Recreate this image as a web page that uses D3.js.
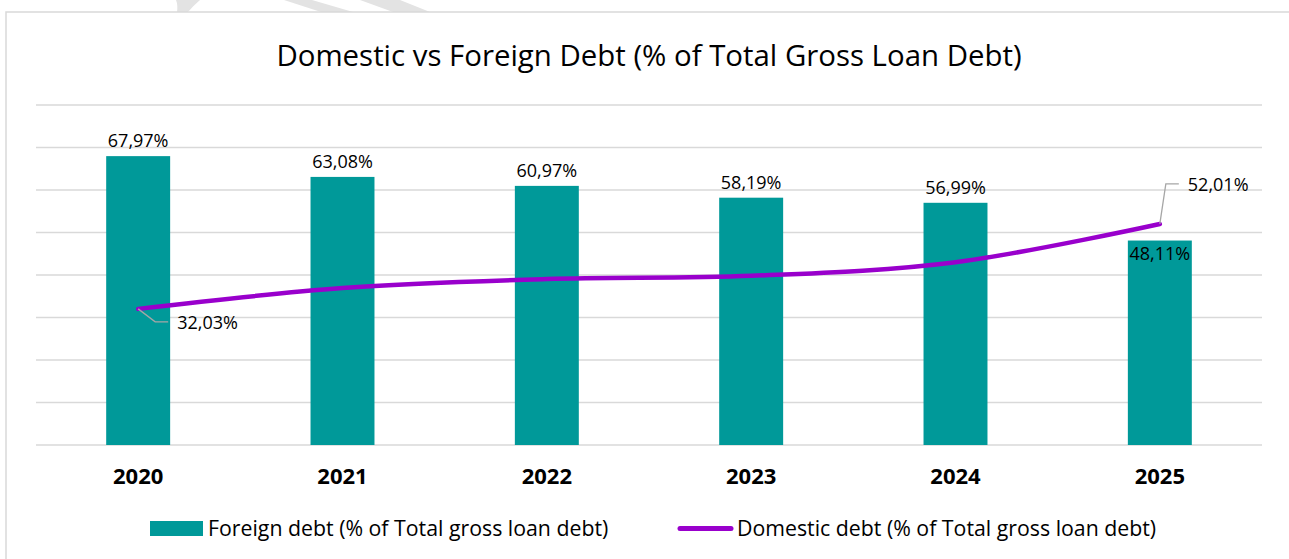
<!DOCTYPE html>
<html lang="en">
<head>
    <meta charset="UTF-8">
    <title>Domestic vs Foreign Debt</title>
    <style>
        body { margin: 0; background: #fff; }
        svg { display: block; font-family: "Open Sans", "Noto Sans", sans-serif; }
        .grid line { stroke: #d9d9d9; stroke-width: 1.5px; }
        .label { font-size: 18px; fill: #000; }
        .xlabel { font-size: 22px; font-weight: bold; fill: #000; text-anchor: middle; }
        .legend { font-size: 21.3px; fill: #000; }
    </style>
</head>
<body>
    <script src="https://d3js.org/d3.v7.min.js"></script>
    <script>
        const years = ["2020", "2021", "2022", "2023", "2024", "2025"];
        const foreignDebt = [67.97, 63.08, 60.97, 58.19, 56.99, 48.11];
        const domesticDebt = [32.03, 36.92, 39.03, 39.8, 43.01, 52.01];
        const yTicks = [0, 10, 20, 30, 40, 50, 60, 70, 80];

        const width = 1289;
        const height = 559;
        const teal = "#009999";
        const purple = "#9900cc";

        const svg = d3.select("body").append("svg")
            .attr("width", width)
            .attr("height", height);

        // faint stray strokes above the chart frame
        svg.append("g").attr("fill", "#e3e3e3")
            .selectAll("path")
            .data([
                "M176,0 L200,0 Q193,6 188,12 L177,12 Q178,5 176,0 Z",
                "M284,0 L312,0 L353,12 L321,12 Z",
                "M360,0 L400,0 L430,12 L393,12 Z"
            ])
            .enter().append("path")
            .attr("d", d => d);

        // chart frame
        svg.append("rect")
            .attr("x", 6).attr("y", 12)
            .attr("width", 1400).attr("height", 700)
            .attr("fill", "#fff")
            .attr("stroke", "#d9d9d9")
            .attr("stroke-width", 1.5);

        svg.append("text")
            .attr("x", 649).attr("y", 66)
            .attr("text-anchor", "middle")
            .style("font-size", "29.4px")
            .text("Domestic vs Foreign Debt (% of Total Gross Loan Debt)");

        const x = d3.scaleBand()
            .domain(years)
            .range([36, 1262])
            .paddingInner(0.687)
            .paddingOuter(0.3435);

        const y = d3.scaleLinear()
            .domain([0, 80])
            .range([445, 105]);

        svg.append("g").attr("class", "grid")
            .selectAll("line")
            .data(yTicks)
            .enter().append("line")
            .attr("x1", 36).attr("x2", 1262)
            .attr("y1", d => y(d)).attr("y2", d => y(d));

        const rows = years.map((yr, i) => ({ year: yr, foreign: foreignDebt[i], domestic: domesticDebt[i] }));
        const fmt = v => v.toFixed(2).replace(".", ",") + "%";
        const cx = d => x(d.year) + x.bandwidth() / 2;

        svg.append("g")
            .selectAll("rect")
            .data(rows)
            .enter().append("rect")
            .attr("x", d => x(d.year))
            .attr("y", d => y(d.foreign))
            .attr("width", x.bandwidth())
            .attr("height", d => y(0) - y(d.foreign))
            .attr("fill", teal);

        // bar labels (last one sits inside the bar)
        svg.append("g")
            .selectAll("text")
            .data(rows)
            .enter().append("text")
            .attr("class", "label")
            .attr("x", cx)
            .attr("y", (d, i) => i === rows.length - 1 ? y(d.foreign) + 19 : y(d.foreign) - 9)
            .attr("text-anchor", "middle")
            .text(d => fmt(d.foreign));

        const line = d3.line()
            .x(cx)
            .y(d => y(d.domestic))
            .curve(d3.curveCardinal.tension(0));

        svg.append("path")
            .datum(rows)
            .attr("fill", "none")
            .attr("stroke", purple)
            .attr("stroke-width", 4.5)
            .attr("stroke-linecap", "round")
            .attr("d", line);

        // leader lines + labels for first and last domestic points
        const first = rows[0], last = rows[rows.length - 1];
        const p0 = [cx(first), y(first.domestic)];
        const p1 = [cx(last), y(last.domestic)];
        svg.append("polyline")
            .attr("points", [p0, [p0[0] + 17, p0[1] + 13], [p0[0] + 30, p0[1] + 13]].join(" "))
            .attr("fill", "none").attr("stroke", "#a6a6a6").attr("stroke-width", 1.3);
        svg.append("text").attr("class", "label")
            .attr("x", p0[0] + 39).attr("y", p0[1] + 20)
            .text(fmt(first.domestic));
        svg.append("polyline")
            .attr("points", [p1, [p1[0] + 6, p1[1] - 40], [p1[0] + 19, p1[1] - 40]].join(" "))
            .attr("fill", "none").attr("stroke", "#a6a6a6").attr("stroke-width", 1.3);
        svg.append("text").attr("class", "label")
            .attr("x", p1[0] + 28).attr("y", p1[1] - 33)
            .text(fmt(last.domestic));

        // x axis labels
        svg.append("g")
            .selectAll("text")
            .data(years)
            .enter().append("text")
            .attr("class", "xlabel")
            .attr("x", d => x(d) + x.bandwidth() / 2)
            .attr("y", 484)
            .text(d => d);

        // legend
        const lg = svg.append("g");
        lg.append("rect")
            .attr("x", 150).attr("y", 521)
            .attr("width", 53).attr("height", 15)
            .attr("fill", teal);
        lg.append("text").attr("class", "legend")
            .attr("x", 208).attr("y", 536)
            .text("Foreign debt (% of Total gross loan debt)");
        lg.append("line")
            .attr("x1", 680).attr("x2", 731)
            .attr("y1", 528.5).attr("y2", 528.5)
            .attr("stroke", purple).attr("stroke-width", 5)
            .attr("stroke-linecap", "round");
        lg.append("text").attr("class", "legend")
            .attr("x", 737).attr("y", 536)
            .text("Domestic debt (% of Total gross loan debt)");
    </script>
</body>
</html>
